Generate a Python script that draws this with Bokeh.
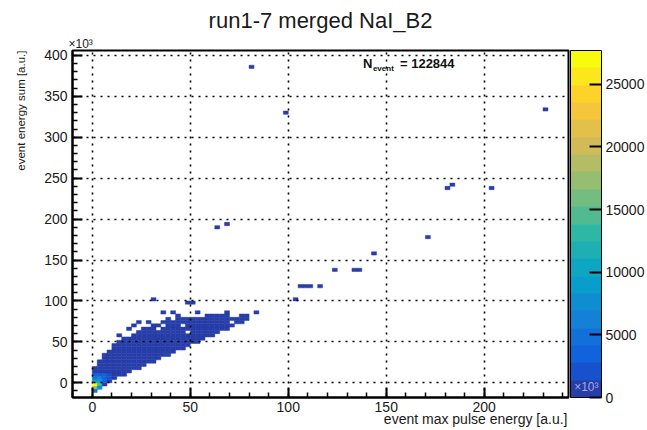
import math
from bokeh.plotting import figure
from bokeh.models import (ColumnDataSource, LinearColorMapper, ColorBar, FixedTicker,
                          SingleIntervalTicker, Label, Range1d, Title)
from bokeh.embed import file_html
from bokeh.resources import INLINE

# ---------------- data ----------------
title_text = "run1-7 merged NaI_B2"
x_title = "event max pulse energy [a.u.]"
y_title = "event energy sum [a.u.]"
exp_text = "×10³"
n_entries = 122844

# histogram binning (x: max pulse energy, y: energy sum, both in 1e3 a.u.)
x_edge0, x_bin = -10.0, 2.5
y_edge0, y_bin = -20.0, 4.0

# dense body of the distribution: per x column, lowest and highest filled y
body_x = [0, 2.5, 5, 7.5, 10, 12.5, 15, 17.5, 20, 22.5, 25, 27.5, 30, 32.5, 35, 37.5,
          40, 42.5, 45, 47.5, 50, 52.5, 55, 57.5, 60, 62.5, 65, 67.5, 70, 72.5, 75, 77.5]
body_ylo = [-6, -4, -1, 2, 5, 8, 11, 13, 16, 19, 22, 24, 27, 30, 32, 35,
            38, 40, 43, 46, 48, 51, 54, 56, 59, 62, 64, 67, 70, 72, 74, 76]
body_yhi = [18, 26, 33, 39, 44, 48, 52, 55, 58, 61, 64, 66, 69, 71, 72, 74,
            75, 76, 77, 78, 78, 79, 79, 80, 80, 80, 80, 80, 79, 79, 80, 80]
body_count = 350

# empty cells inside the body
hole_x = [32.5, 37.0, 45.0, 47.5, 72.0]
hole_y = [64.0, 70.0, 70.0, 60.0, 74.0]

# hot cells near the origin
hot_x = [0.5, 0.5, 3.0, 0.5, 3.0, 3.0, 0.5, 0.5, 3.0, 5.5, 5.5, 5.5, 3.0, 0.5, 8.0, 8.0]
hot_y = [-2, -6, -2, 2, 2, -6, -10, 6, 6, 2, 6, 10, 10, 10, 6, 10]
hot_counts = [26400, 17000, 15000, 11000, 9000, 7000, 4500, 5500, 6000, 4000, 4000,
              3000, 3500, 2800, 2000, 2200]

# sparse single cells just above the body
sparse_x = [31.8, 48.9, 51.6, 42.4, 36.4, 53.4, 67.8, 84.7, 44.1, 21.2, 17.8, 24.6,
            73.8, 39.0, 13.5, 28.8]
sparse_y = [102.9, 98.8, 98.8, 86.6, 84.6, 84.6, 84.6, 84.6, 80.5, 70.4, 64.3, 74.4,
            78.5, 78.5, 56.0, 72.4]

# isolated outlier events
outlier_x = [80.5, 99.5, 230.9, 180.1, 184.3, 203.5, 63.9, 68.2, 171.6, 144.1, 124.9,
             134.4, 137.3, 105.5, 108.0, 110.2, 116.6, 103.9]
outlier_y = [384.1, 331.3, 334.6, 239.9, 243.2, 239.9, 190.2, 193.5, 176.1, 158.5, 137.4,
             137.4, 137.4, 116.3, 116.3, 119.5, 116.3, 102.1]
single_count = 1

z_max = 27700
cbar_ticks = [0, 5000, 10000, 15000, 20000, 25000]

# ---------------- ROOT kBird palette, 20 contour levels ----------------
stops = [0.0, 0.125, 0.25, 0.375, 0.5, 0.625, 0.75, 0.875, 1.0]
red = [0.2082, 0.0592, 0.0780, 0.0232, 0.1802, 0.5301, 0.8186, 0.9956, 0.9764]
green = [0.1664, 0.3599, 0.5041, 0.6419, 0.7178, 0.7492, 0.7328, 0.7862, 0.9832]
blue = [0.5293, 0.8684, 0.8385, 0.7914, 0.6425, 0.4662, 0.3499, 0.1968, 0.0539]


def bird(t):
    for s in range(len(stops) - 1):
        if t <= stops[s + 1]:
            f = (t - stops[s]) / (stops[s + 1] - stops[s])
            r = red[s] + f * (red[s + 1] - red[s])
            g = green[s] + f * (green[s + 1] - green[s])
            b = blue[s] + f * (blue[s + 1] - blue[s])
            return "#%02x%02x%02x" % (round(r * 255), round(g * 255), round(b * 255))
    return "#%02x%02x%02x" % (round(red[-1] * 255), round(green[-1] * 255), round(blue[-1] * 255))


pal255 = [bird(i / 254) for i in range(255)]
n_levels = 20
palette = [pal255[int((k + 0.99) * 255 / n_levels)] for k in range(n_levels)]

# ---------------- fill histogram cells ----------------
def xi(x):
    return int(math.floor((x - x_edge0) / x_bin + 1e-9))


def yj(y):
    return int(math.floor((y - y_edge0) / y_bin + 1e-9))


cells = {}
for x, lo, hi in zip(body_x, body_ylo, body_yhi):
    for j in range(yj(lo), yj(hi) + 1):
        cells[(xi(x), j)] = body_count
for x, y in zip(hole_x, hole_y):
    cells.pop((xi(x), yj(y)), None)
for x, y in zip(sparse_x, sparse_y):
    cells[(xi(x), yj(y))] = single_count
for x, y in zip(outlier_x, outlier_y):
    cells[(xi(x), yj(y))] = single_count
for x, y, c in zip(hot_x, hot_y, hot_counts):
    cells[(xi(x), yj(y))] = c

keys = list(cells.keys())
src = ColumnDataSource(dict(
    left=[x_edge0 + i * x_bin for i, j in keys],
    right=[x_edge0 + (i + 1) * x_bin for i, j in keys],
    bottom=[y_edge0 + j * y_bin for i, j in keys],
    top=[y_edge0 + (j + 1) * y_bin for i, j in keys],
    count=[cells[k] for k in keys],
))

mapper = LinearColorMapper(palette=palette, low=0, high=z_max)

# ---------------- figure ----------------
FONT = "Liberation Sans"
TXT = "#1a1a1a"
p = figure(width=647, height=430, x_range=Range1d(-10.1, 243), y_range=Range1d(-18, 406),
           output_backend="svg", toolbar_location=None, title=None,
           min_border_left=72, min_border_right=78, min_border_top=50, min_border_bottom=33,
           background_fill_color="white", border_fill_color="white")

p.quad(left="left", right="right", bottom="bottom", top="top", source=src,
       fill_color={"field": "count", "transform": mapper},
       line_color={"field": "count", "transform": mapper}, line_width=0.5)

for ax in (p.xaxis, p.yaxis):
    ax.ticker = SingleIntervalTicker(interval=50, num_minor_ticks=5)
    ax.major_tick_in = 10
    ax.major_tick_out = 0
    ax.minor_tick_in = 5
    ax.minor_tick_out = 0
    ax.axis_line_color = "black"
    ax.axis_line_width = 2
    ax.major_tick_line_color = "black"
    ax.major_tick_line_width = 2
    ax.minor_tick_line_color = "black"
    ax.minor_tick_line_width = 1.5
    ax.major_label_text_font = FONT
    ax.major_label_text_font_size = "14px"
    ax.major_label_text_color = TXT
p.yaxis.major_label_standoff = 5
p.xaxis.major_label_standoff = 4

p.grid.grid_line_color = "black"
p.grid.grid_line_dash = "2 5"
p.grid.grid_line_width = 1.6
p.grid.level = "overlay"

p.outline_line_color = "black"
p.outline_line_width = 2

cb = ColorBar(color_mapper=mapper, ticker=FixedTicker(ticks=cbar_ticks),
              width=31, height=347, padding=0, margin=0, location=(2, 0),
              major_tick_in=12, major_tick_out=0, major_tick_line_color="black",
              major_tick_line_width=2, minor_tick_line_color=None,
              label_standoff=4, major_label_text_font=FONT,
              major_label_text_font_size="14px", major_label_text_color=TXT,
              bar_line_color="black", bar_line_width=1,
              border_line_color=None, background_fill_color=None)
p.add_layout(cb, "right")

# texts outside the frame: titles in the side panels
p.add_layout(Title(text=exp_text, align="left", offset=-4, standoff=0,
                   text_font=FONT, text_font_size="12px", text_font_style="normal",
                   text_color=TXT), "above")
p.add_layout(Title(text=title_text, align="center", standoff=4,
                   text_font=FONT, text_font_size="22px", text_font_style="normal",
                   text_color=TXT), "above")
p.add_layout(Title(text=y_title, align="right", standoff=26, vertical_align="top",
                   text_font=FONT, text_font_size="11.5px", text_font_style="normal",
                   text_color=TXT), "left")
p.add_layout(Title(text=x_title, align="right", offset=1, standoff=-8,
                   vertical_align="top",
                   text_font=FONT, text_font_size="14px", text_font_style="normal",
                   text_color=TXT), "below")
p.add_layout(Title(text=exp_text, align="right", offset=-30, standoff=-90,
                   vertical_align="top", level="overlay",
                   text_font=FONT, text_font_size="12px", text_font_style="normal",
                   text_color="#a3aae6"), "below")

# statistics text inside the frame
p.add_layout(Label(x=138.1, y=390.1, text="N", text_align="left", text_baseline="middle",
                   text_font=FONT, text_font_size="13px", text_font_style="bold",
                   text_color="#111111"))
p.add_layout(Label(x=143.2, y=384.0, text="event", text_align="left", text_baseline="middle",
                   text_font=FONT, text_font_size="8px", text_font_style="bold",
                   text_color="#111111"))
p.add_layout(Label(x=157.0, y=390.1, text="= %d" % n_entries, text_align="left",
                   text_baseline="middle", text_font=FONT, text_font_size="13px",
                   text_font_style="bold", text_color="#111111"))

open("out.html", "w").write(file_html(p, INLINE, title="run1-7 merged NaI_B2"))
